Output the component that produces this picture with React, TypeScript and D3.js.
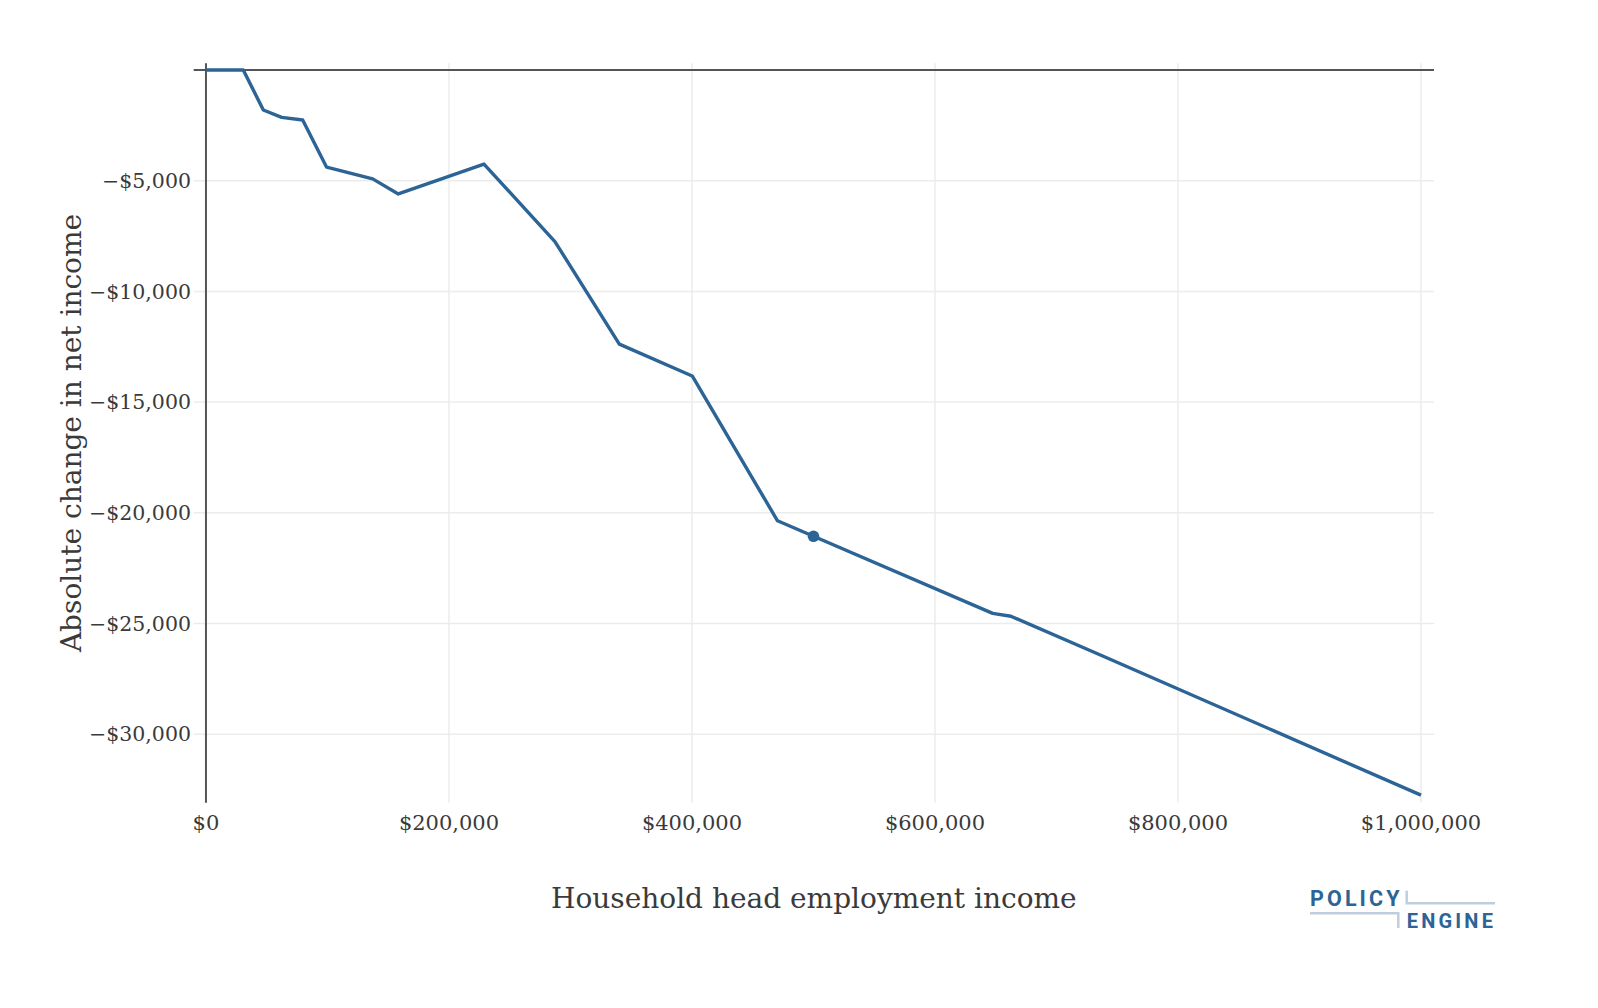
import React from "react";
import * as d3 from "d3";

const incomes = [0, 30700, 47200, 62300, 79600, 99300, 137200, 158300, 228800, 287200, 340200, 400200, 470400, 500000, 647500, 662500, 736600, 1000000];
const changes = [0, 0, -1810, -2140, -2260, -4390, -4920, -5600, -4250, -7750, -12380, -13820, -20360, -21060, -24540, -24670, -26430, -32750];
const markerIncome = 500000;
const markerChange = -21060;
const xTicks = [0, 200000, 400000, 600000, 800000, 1000000];
const yTicks = [-5000, -10000, -15000, -20000, -25000, -30000];
const xTitle = "Household head employment income";
const yTitle = "Absolute change in net income";

const W = 1598;
const H = 1008;
const L = 193.7, R = 1434, T = 63.3, B = 802.7;
const BLUE = "#2C6496";
const TEXT = "#3a3a3a";
const AXIS = "#555555";
const GRID = "#ececec";
const FONT = "'DejaVu Serif', serif";

const fmt = (v: number) => {
  const s = "$" + d3.format(",")(Math.abs(v));
  return v < 0 ? "\u2212" + s : s;
};

export default function App() {
  const x = d3.scaleLinear().domain([-10100, 1010700]).range([L, R]);
  const y = d3.scaleLinear().domain([-33090, 300]).range([B, T]);
  const pts = incomes.map((v, i) => [v, changes[i]] as [number, number]);
  const line = d3.line<[number, number]>().x((d) => x(d[0])).y((d) => y(d[1]));

  return (
    <svg width={W} height={H} style={{ position: "absolute", left: 0, top: 0, background: "#fff" }}>
      <rect x={0} y={0} width={W} height={H} fill="#fff" />
      {xTicks.map((t) => (
        <line key={"gx" + t} x1={x(t)} x2={x(t)} y1={T} y2={B} stroke={GRID} strokeWidth={1.5} />
      ))}
      {yTicks.map((t) => (
        <line key={"gy" + t} x1={L} x2={R} y1={y(t)} y2={y(t)} stroke={GRID} strokeWidth={1.5} />
      ))}
      <line x1={x(0)} x2={x(0)} y1={T} y2={B} stroke={AXIS} strokeWidth={2} />
      <line x1={L} x2={R} y1={y(0)} y2={y(0)} stroke={AXIS} strokeWidth={2} />
      <path d={line(pts) || ""} fill="none" stroke={BLUE} strokeWidth={3.4} strokeLinejoin="round" />
      <circle cx={x(markerIncome)} cy={y(markerChange)} r={5.8} fill={BLUE} />
      {xTicks.map((t) => (
        <text key={"tx" + t} x={x(t)} y={830} textAnchor="middle" fontFamily={FONT} fontSize={21} fill={TEXT}>
          {fmt(t)}
        </text>
      ))}
      {yTicks.map((t) => (
        <text key={"ty" + t} x={191} y={y(t)} dy="0.35em" textAnchor="end" fontFamily={FONT} fontSize={20.5} fill={TEXT}>
          {fmt(t)}
        </text>
      ))}
      <text x={(L + R) / 2} y={908} textAnchor="middle" fontFamily={FONT} fontSize={28} fill={TEXT}>
        {xTitle}
      </text>
      <text transform={`translate(81,${(T + B) / 2}) rotate(-90)`} textAnchor="middle" fontFamily={FONT} fontSize={28} fill={TEXT}>
        {yTitle}
      </text>
      <g>
        <polyline points="1310,913.3 1398.3,913.3 1398.3,928" fill="none" stroke="#BFCEDF" strokeWidth={2.5} />
        <polyline points="1406.7,890.7 1406.7,903.3 1495,903.3" fill="none" stroke="#BFCEDF" strokeWidth={2.5} />
        <text x={1310} y={906} fontFamily="Roboto, 'Noto Sans', sans-serif" fontWeight={700} fontSize={21.5} letterSpacing={3.1} fill={BLUE}>
          POLICY
        </text>
        <text x={1406.7} y={927.5} fontFamily="Roboto, 'Noto Sans', sans-serif" fontWeight={700} fontSize={20} letterSpacing={3.2} fill={BLUE}>
          ENGINE
        </text>
      </g>
    </svg>
  );
}
